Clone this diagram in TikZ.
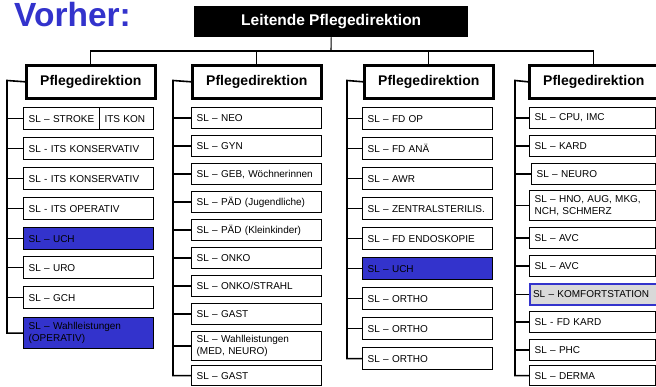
\documentclass[tikz,border=0pt]{standalone}
\usepackage{fontspec}
\setmainfont{Liberation Sans}
\definecolor{hiblue}{RGB}{51,51,204}
\definecolor{komfgray}{RGB}{217,217,217}
\begin{document}
\begin{tikzpicture}[x=1pt,y=-1pt,
  every node/.style={inner sep=0pt},
  title/.style={anchor=base west, text=hiblue, font=\fontsize{33.5}{38}\selectfont\bfseries},
  chief/.style={fill=black, text=white, anchor=north west, minimum width=274pt, minimum height=31pt,
    font=\fontsize{15.5}{17}\selectfont\bfseries},
  dept/.style={draw, line width=2.6pt, fill=white, anchor=north west, minimum width=129pt, minimum height=33pt,
    font=\fontsize{14}{16}\selectfont\bfseries},
  unit/.style={draw, line width=1.2pt, fill=white, anchor=north west, minimum height=22pt,
    inner xsep=5pt, align=left, text width=120pt, font=\fontsize{10}{12}\selectfont},
  narrow/.style={text width=116pt},
  hi/.style={fill=hiblue},
  komf/.style={fill=komfgray, draw=hiblue, line width=2pt, inner xsep=3pt, text width=121pt},
  bus/.style={line width=1.1pt},
  spine/.style={line width=1.6pt},
  tick/.style={line width=1.3pt},
]
\useasboundingbox (0,0) rectangle (656,387);

% heading
\node[title] (ttl) at (14,27) {Vorher:};

% top of the hierarchy
\node[chief] (top) at (194,6) {Leitende Pflegedirektion};

% four nursing directorates
\node[dept] (p1) at (25,64)  {Pflegedirektion};
\node[dept] (p2) at (191,64) {Pflegedirektion};
\node[dept] (p3) at (363,64) {Pflegedirektion};
\node[dept] (p4) at (528,64) {Pflegedirektion};

\coordinate (bus) at (331,51);
\draw[bus] (top.south) -- (bus);
\draw[bus] (p1.north) -- (p1.north |- bus) -- (p4.north |- bus) -- (p4.north);
\draw[bus] (p2.north) -- (p2.north |- bus);
\draw[bus] (p3.north) -- (p3.north |- bus);

% column 1
\node[unit, text width=66pt] (a1) at (23,107) {SL – STROKE};
\node[unit, text width=44pt] (a1b) at (99,107) {ITS KON};
\node[unit] (a2) at (23,137) {SL - ITS KONSERVATIV};
\node[unit] (a3) at (23,167) {SL - ITS KONSERVATIV};
\node[unit] (a4) at (23,197) {SL - ITS OPERATIV};
\node[unit, hi] (a5) at (23,227) {SL – UCH};
\node[unit] (a6) at (23,256) {SL – URO};
\node[unit] (a7) at (23,286) {SL – GCH};
\node[unit, hi, minimum height=31pt] (a8) at (23,317) {SL – Wahlleistungen\\(OPERATIV)};

\coordinate (s1) at (7,80.5);
\draw[spine] (p1.west) -- (s1) |- (a8.west);
\foreach \n in {a1,a2,a3,a4,a5,a6,a7}
  \draw[tick] (\n.west) -- (\n.west -| s1);

% column 2
\node[unit, minimum height=21pt] (b1) at (191,107) {SL – NEO};
\node[unit, minimum height=21pt] (b2) at (191,135) {SL – GYN};
\node[unit, minimum height=21pt] (b3) at (191,163) {SL – GEB, Wöchnerinnen};
\node[unit, minimum height=21pt] (b4) at (191,191) {SL – PÄD (Jugendliche)};
\node[unit, minimum height=21pt] (b5) at (191,219) {SL – PÄD (Kleinkinder)};
\node[unit, minimum height=21pt] (b6) at (191,247) {SL – ONKO};
\node[unit, minimum height=21pt] (b7) at (191,275) {SL – ONKO/STRAHL};
\node[unit, minimum height=21pt] (b8) at (191,303) {SL – GAST};
\node[unit, minimum height=29pt] (b9) at (191,331) {SL – Wahlleistungen\\(MED, NEURO)};
\node[unit, minimum height=20pt] (b10) at (191,365) {SL – GAST};

\coordinate (s2) at (173,80.5);
\draw[spine] (p2.west) -- (s2) |- (b10.west);
\foreach \n in {b1,b2,b3,b4,b5,b6,b7,b8,b9}
  \draw[tick] (\n.west) -- (\n.west -| s2);

% column 3
\node[unit] (c1) at (362,107) {SL – FD OP};
\node[unit] (c2) at (362,137) {SL – FD ANÄ};
\node[unit] (c3) at (362,167) {SL – AWR};
\node[unit] (c4) at (362,197) {SL – ZENTRALSTERILIS.};
\node[unit] (c5) at (362,227) {SL – FD ENDOSKOPIE};
\node[unit, hi] (c6) at (362,257) {SL – UCH};
\node[unit] (c7) at (362,287) {SL – ORTHO};
\node[unit] (c8) at (362,317) {SL – ORTHO};
\node[unit] (c9) at (362,347) {SL – ORTHO};

\coordinate (s3) at (347,80.5);
\draw[spine] (p3.west) -- (s3) |- (c9.west);
\foreach \n in {c1,c2,c3,c4,c5,c6,c7,c8}
  \draw[tick] (\n.west) -- (\n.west -| s3);

% column 4
\node[unit, narrow, minimum height=21pt] (d1) at (529,107) {SL – CPU, IMC};
\node[unit, narrow, minimum height=21pt] (d2) at (529,135) {SL – KARD};
\node[unit, narrow, minimum height=21pt, text width=114pt] (d3) at (531,163) {SL – NEURO};
\node[unit, narrow, minimum height=30pt] (d4) at (529,190) {SL – HNO, AUG, MKG,\\NCH, SCHMERZ};
\node[unit, narrow, minimum height=21pt] (d5) at (529,227) {SL – AVC};
\node[unit, narrow, minimum height=21pt] (d6) at (529,255) {SL – AVC};
\node[unit, komf, minimum height=21pt] (d7) at (529,283) {SL – KOMFORTSTATION};
\node[unit, narrow, minimum height=21pt] (d8) at (529,311) {SL - FD KARD};
\node[unit, narrow, minimum height=21pt] (d9) at (529,339) {SL – PHC};
\node[unit, narrow, minimum height=20pt] (d10) at (529,365) {SL – DERMA};

\coordinate (s4) at (515,80.5);
\draw[spine] (p4.west) -- (s4) |- (d10.west);
\foreach \n in {d1,d2,d3,d4,d5,d6,d7,d8,d9}
  \draw[tick] (\n.west) -- (\n.west -| s4);
\end{tikzpicture}
\end{document}
